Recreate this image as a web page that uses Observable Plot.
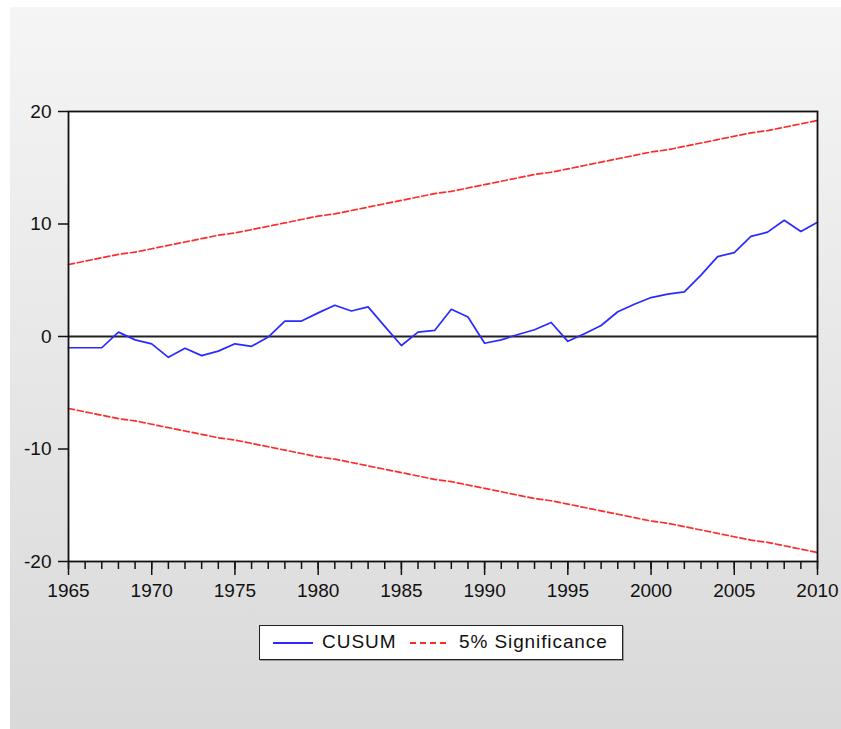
<!DOCTYPE html>
<html>
<head>
<meta charset="utf-8">
<script src="https://cdn.jsdelivr.net/npm/d3@7"></script>
<script src="https://cdn.jsdelivr.net/npm/@observablehq/plot@0.6"></script>
<style>
  html, body { margin: 0; padding: 0; background: #ffffff; width: 841px; height: 729px; overflow: hidden; }
  #panel { position: absolute; left: 10px; top: 7px; width: 831px; height: 722px;
           background: linear-gradient(#f5f5f5, #d9d9d9); }
  #chart { position: absolute; left: 0; top: 0; }
  #legend { position: absolute; left: 259px; top: 625px; width: 362px; height: 33px;
            background: #fff; border: 1.5px solid #222; box-shadow: 1px 1px 0 #999;
            font-family: "Liberation Sans", Arial, sans-serif; font-size: 19px; color: #111; }
  .sw { position: absolute; top: 12px; }
  .lab { position: absolute; top: 6px; line-height: 20px; white-space: nowrap; }
</style>
</head>
<body>
<div id="panel"></div>
<div id="chart"></div>
<div id="legend">
  <svg class="sw" style="left:13px" width="42" height="10"><line x1="0" x2="40" y1="5" y2="5" stroke="#2a2aff" stroke-width="1.8"/></svg>
  <div class="lab" style="left:62px;letter-spacing:1px;">CUSUM</div>
  <svg class="sw" style="left:150px" width="42" height="10"><line x1="0" x2="38" y1="5" y2="5" stroke="#ff2a2a" stroke-width="1.8" stroke-dasharray="6,4"/></svg>
  <div class="lab" style="left:199px;letter-spacing:0.9px;">5% Significance</div>
</div>
<script>
const years = [1965,1966,1967,1968,1969,1970,1971,1972,1973,1974,1975,1976,1977,1978,1979,1980,
  1981,1982,1983,1984,1985,1986,1987,1988,1989,1990,1991,1992,1993,1994,1995,1996,1997,1998,1999,
  2000,2001,2002,2003,2004,2005,2006,2007,2008,2009,2010];
const cusum = [-1.0,-1.0,-1.0,0.39,-0.3,-0.65,-1.85,-1.05,-1.7,-1.3,-0.65,-0.87,-0.05,1.37,1.37,2.1,
  2.78,2.27,2.63,0.9,-0.8,0.39,0.54,2.42,1.73,-0.6,-0.3,0.18,0.6,1.25,-0.43,0.24,0.98,2.2,2.87,
  3.46,3.76,3.97,5.46,7.1,7.46,8.9,9.28,10.33,9.34,10.15];
const upper = [6.4,6.7,7.0,7.3,7.5,7.8,8.1,8.4,8.7,9.0,9.2,9.5,9.8,10.1,10.4,10.7,
  10.9,11.2,11.5,11.8,12.1,12.4,12.7,12.9,13.2,13.5,13.8,14.1,14.4,14.6,14.9,15.2,15.5,15.8,16.1,
  16.4,16.6,16.9,17.2,17.5,17.8,18.1,18.3,18.6,18.9,19.2];
const lower = upper.map(v => -v);
const majorYears = [1965,1970,1975,1980,1985,1990,1995,2000,2005,2010];
const yTicks = [-20,-10,0,10,20];

const rows = years.map((y, i) => ({year: y, cusum: cusum[i], upper: upper[i], lower: lower[i]}));

const chart = Plot.plot({
  width: 841,
  height: 620,
  marginLeft: 68,
  marginRight: 24,
  marginTop: 111,
  marginBottom: 59,
  style: {background: "transparent", fontFamily: "'Liberation Sans', Arial, sans-serif", color: "#111"},
  x: {domain: [1965, 2010], label: null},
  y: {domain: [-20, 20], label: null},
  marks: [
    Plot.frame({fill: "white", stroke: null}),
    Plot.ruleY([0], {stroke: "#222", strokeWidth: 2}),
    Plot.line(rows, {x: "year", y: "upper", stroke: "#ff2a2a", strokeWidth: 1.7, strokeDasharray: "6,3"}),
    Plot.line(rows, {x: "year", y: "lower", stroke: "#ff2a2a", strokeWidth: 1.7, strokeDasharray: "6,3"}),
    Plot.line(rows, {x: "year", y: "cusum", stroke: "#2a2aff", strokeWidth: 1.7}),
    Plot.axisX(years, {tickSize: 8, tickFormat: null, text: null, stroke: "#111", strokeWidth: 1.5}),
    Plot.axisX(majorYears, {tickSize: 14, tickPadding: 8, tickFormat: d => String(d), fontSize: 19, stroke: "#111", strokeWidth: 1.5, fill: "#111"}),
    Plot.axisY(yTicks, {tickSize: 10, tickPadding: 7, tickFormat: d => String(d), fontSize: 19, stroke: "#111", strokeWidth: 1.5, fill: "#111"}),
    Plot.frame({stroke: "#111", strokeWidth: 1.8})
  ]
});
document.getElementById("chart").appendChild(chart);
</script>
</body>
</html>
